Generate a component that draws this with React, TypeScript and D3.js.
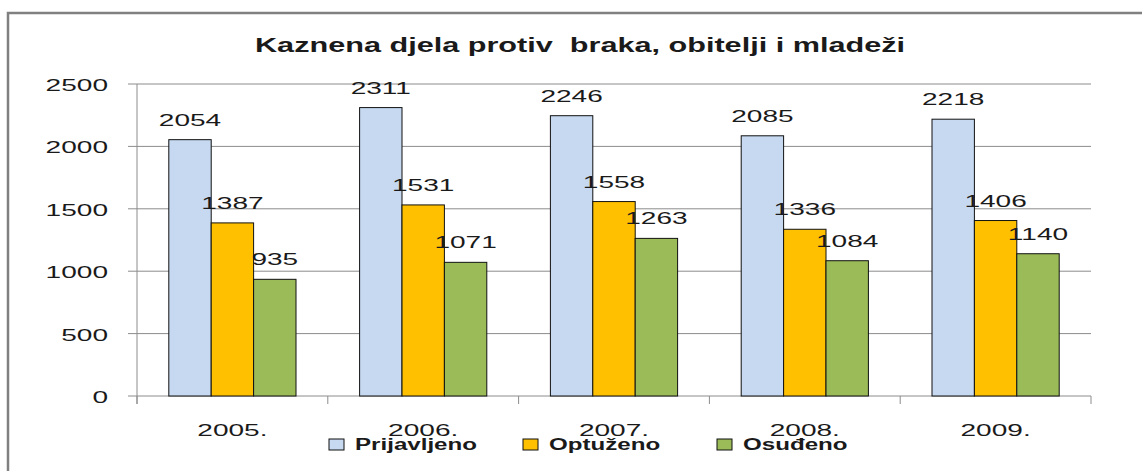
import React from "react";
import * as d3 from "d3";

const years = ["2005.", "2006.", "2007.", "2008.", "2009."];
const seriesNames = ["Prijavljeno", "Optuženo", "Osuđeno"];
const prijavljeno = [2054, 2311, 2246, 2085, 2218];
const optuzeno = [1387, 1531, 1558, 1336, 1406];
const osudeno = [935, 1071, 1263, 1084, 1140];
const yTicks = [0, 500, 1000, 1500, 2000, 2500];
const colors = ["#C6D9F0", "#FFC000", "#9BBB59"];
const title = "Kaznena djela protiv  braka, obitelji i mladeži";

const W = 1142, H = 471;
const plot = { left: 137, right: 1091, top: 84, bottom: 396 };
const SX = 1.65;
const FS = 17;
const TXT = "#1a1a1a";

function ST({ x, y, children, anchor = "middle", sx = SX, fs = FS, weight = "normal" }: any) {
  return (
    <text
      transform={`translate(${x},${y}) scale(${sx},1)`}
      textAnchor={anchor}
      fontSize={fs}
      fontWeight={weight}
      fontFamily="'Liberation Sans', Arial, sans-serif"
      fill={TXT}
    >
      {children}
    </text>
  );
}

export default function App() {
  const series = [prijavljeno, optuzeno, osudeno];
  const x = d3.scaleBand().domain(years).range([plot.left, plot.right]).paddingInner(0).paddingOuter(0);
  const xs = d3.scaleBand<number>().domain([0, 1, 2]).range([0, x.bandwidth()]).paddingInner(0).paddingOuter(0.75);
  const y = d3.scaleLinear().domain([0, 2500]).range([plot.bottom, plot.top]);
  const boundaries = years.map((c) => x(c) as number).concat([plot.right]);

  return (
    <svg width={W} height={H} style={{ position: "absolute", left: 0, top: 0, background: "#fff" }}>
      <rect x={0} y={0} width={W} height={H} fill="#fff" />
      <rect x={8} y={13} width={1300} height={600} fill="none" stroke="#808080" strokeWidth={2.5} />
      <text
        x={580}
        y={52}
        textAnchor="middle"
        fontSize={20}
        fontWeight="bold"
        fontFamily="'Liberation Sans', Arial, sans-serif"
        fill={TXT}
        textLength={650}
        lengthAdjust="spacingAndGlyphs"
        style={{ whiteSpace: "pre" }}
      >
        {title}
      </text>
      {yTicks.filter((t) => t > 0).map((t) => (
        <line key={"g" + t} x1={plot.left} x2={plot.right} y1={y(t)} y2={y(t)} stroke="#8c8c8c" strokeWidth={1} />
      ))}
      {yTicks.map((t) => (
        <g key={"yt" + t}>
          <line x1={plot.left - 9} x2={plot.left} y1={y(t)} y2={y(t)} stroke="#8c8c8c" />
          <ST x={108} y={y(t) + 7} anchor="end">{t}</ST>
        </g>
      ))}
      <line x1={plot.left} x2={plot.left} y1={plot.top} y2={plot.bottom + 8} stroke="#8c8c8c" />
      <line x1={plot.left} x2={plot.right} y1={plot.bottom} y2={plot.bottom} stroke="#8c8c8c" />
      {boundaries.map((b, i) => (
        <line key={"xt" + i} x1={b} x2={b} y1={plot.bottom} y2={plot.bottom + 8} stroke="#8c8c8c" />
      ))}
      {years.map((c, ci) => (
        <g key={c}>
          {series.map((s, si) => {
            const bx = (x(c) as number) + (xs(si) as number);
            const by = y(s[ci]);
            return (
              <g key={si}>
                <rect x={bx} y={by} width={xs.bandwidth()} height={plot.bottom - by} fill={colors[si]} stroke="#111" strokeWidth={1} />
                <ST x={bx + xs.bandwidth() / 2} y={by - 14}>{s[ci]}</ST>
              </g>
            );
          })}
          <ST x={(x(c) as number) + x.bandwidth() / 2} y={436}>{c}</ST>
        </g>
      ))}
      {seriesNames.map((n, i) => {
        const lx = 329 + i * 194;
        return (
          <g key={n}>
            <rect x={lx} y={439} width={15} height={11} fill={colors[i]} stroke="#111" strokeWidth={1} />
            <ST x={lx + 26} y={450} anchor="start" sx={1.42} weight="bold">{n}</ST>
          </g>
        );
      })}
    </svg>
  );
}
